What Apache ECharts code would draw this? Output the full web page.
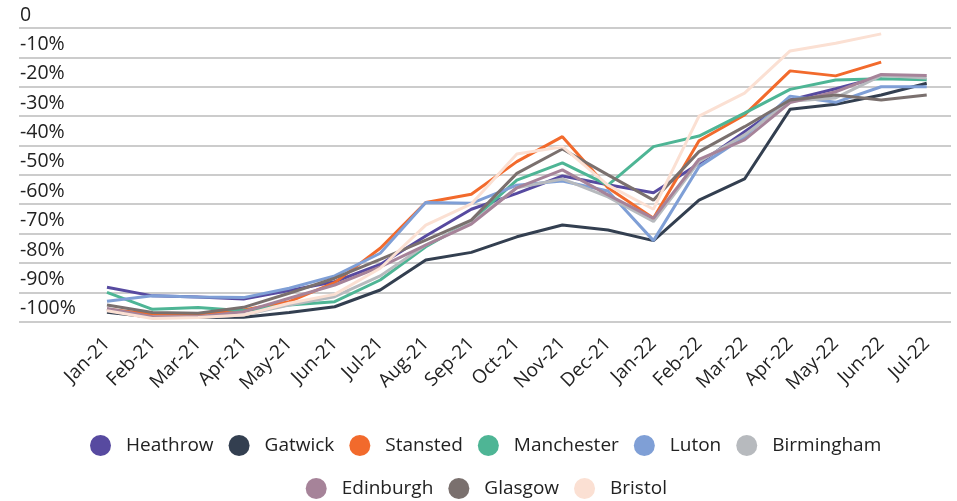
<!DOCTYPE html>
<html>
<head>
<meta charset="utf-8">
<script src="https://cdn.jsdelivr.net/npm/echarts@6/dist/echarts.min.js"></script>
<style>
html,body{margin:0;padding:0;background:#fff;}
#chart{width:957px;height:501px;}
</style>
</head>
<body>
<div id="chart"></div>
<script>
var months = ['Jan-21','Feb-21','Mar-21','Apr-21','May-21','Jun-21','Jul-21','Aug-21','Sep-21','Oct-21','Nov-21','Dec-21','Jan-22','Feb-22','Mar-22','Apr-22','May-22','Jun-22','Jul-22'];
var heathrow   = [-88.3,-91.2,-91.6,-92.3,-89.4,-86.4,-80.5,-70.8,-61.7,-56.3,-50.4,-53.4,-56.1,-46.1,-35.3,-24.5,-20.7,-16.6,null];
var gatwick    = [-96.8,-98.5,-98.6,-98.5,-96.9,-94.9,-89.2,-79.0,-76.4,-71.1,-67.1,-68.8,-72.4,-58.6,-51.4,-27.7,-26.0,-22.8,-18.8];
var stansted   = [-95.8,-97.4,-97.4,-96.0,-93.2,-86.7,-75.0,-59.4,-56.6,-45.5,-37.0,-54.4,-64.8,-38.4,-29.6,-14.6,-16.3,-11.6,null];
var manchester = [-90.0,-95.8,-95.2,-96.3,-94.3,-93.2,-85.8,-74.5,-65.7,-51.8,-45.9,-53.5,-40.4,-36.8,-29.0,-20.9,-17.7,-17.3,-17.6];
var luton      = [-93.0,-91.2,-91.6,-91.8,-88.6,-84.4,-76.7,-59.4,-59.7,-53.5,-52.1,-55.5,-72.4,-47.2,-37.0,-23.2,-25.3,-20.0,-20.0];
var birmingham = [-96.0,-98.6,-98.6,-97.7,-94.3,-91.5,-84.4,-73.9,-66.3,-54.4,-51.4,-57.5,-65.9,-45.5,-36.4,-24.9,-23.8,-16.2,-17.0];
var edinburgh  = [-95.5,-98.3,-98.3,-96.6,-92.0,-87.5,-81.3,-73.9,-66.8,-54.4,-48.3,-56.8,-64.8,-44.7,-38.1,-25.4,-21.7,-15.8,-16.2];
var glasgow    = [-94.3,-96.9,-97.1,-95.1,-90.3,-85.2,-78.8,-72.2,-65.4,-49.5,-41.2,-50.0,-58.6,-42.1,-33.6,-24.5,-22.8,-24.5,-22.8];
var bristol    = [-96.3,-98.9,-98.6,-97.7,-93.7,-90.7,-81.8,-67.1,-59.9,-42.9,-40.4,-53.5,-61.7,-30.0,-22.2,-7.8,-5.2,-2.0,null];

var seriesNames = ['Heathrow','Gatwick','Stansted','Manchester','Luton','Birmingham','Edinburgh','Glasgow','Bristol'];
var seriesData = [heathrow,gatwick,stansted,manchester,luton,birmingham,edinburgh,glasgow,bristol];
var colors = ['#574aa0','#333f50','#f26a2c','#4eb595','#7f9fd6','#b7babe','#a68399','#7a706e','#fbe0d3'];

var FONT = '"Open Sans", "Noto Sans", sans-serif';
var chart = echarts.init(document.getElementById('chart'), null, {renderer:'canvas'});

var series = seriesNames.map(function(n,i){
  return {
    name:n, type:'line', xAxisIndex:1, yAxisIndex:1,
    data:seriesData[i], symbol:'none', connectNulls:false,
    lineStyle:{width:3,color:colors[i]}, itemStyle:{color:colors[i]}
  };
});

var legendCommon = {
  icon:'circle', itemWidth:21, itemHeight:21, itemGap:15, padding:0,
  textStyle:{fontFamily:FONT,fontSize:19,color:'#222',padding:[0,0,0,10]}
};

chart.setOption({
  animation:false,
  color:colors,
  grid:[
    {left:19, right:6, top:28, height:293.7},
    {left:84.2, right:7.5, top:28, height:293.7}
  ],
  xAxis:[
    {type:'value', gridIndex:0, show:false, min:0, max:1},
    {type:'category', gridIndex:1, data:months, boundaryGap:true,
     axisLine:{show:false}, axisTick:{show:false},
     axisLabel:{rotate:45, fontFamily:FONT, fontSize:19, color:'#222', margin:19, interval:0}}
  ],
  yAxis:[
    {type:'value', gridIndex:0, min:-100, max:0, interval:10,
     axisLine:{show:false}, axisTick:{show:false},
     splitLine:{show:true, lineStyle:{color:'#cccccc', width:2}},
     axisLabel:{inside:true, margin:1, align:'left', verticalAlign:'bottom', lineHeight:26,
       fontFamily:FONT, fontSize:19.5, color:'#222',
       formatter:function(v){ return v===0 ? '0' : v + '%'; }}},
    {type:'value', gridIndex:1, min:-100, max:0, show:false}
  ],
  legend:[
    Object.assign({}, legendCommon, {left:90, top:435, data:seriesNames.slice(0,6)}),
    Object.assign({}, legendCommon, {left:305.7, top:478, data:seriesNames.slice(6)})
  ],
  series:series
});
</script>
</body>
</html>
